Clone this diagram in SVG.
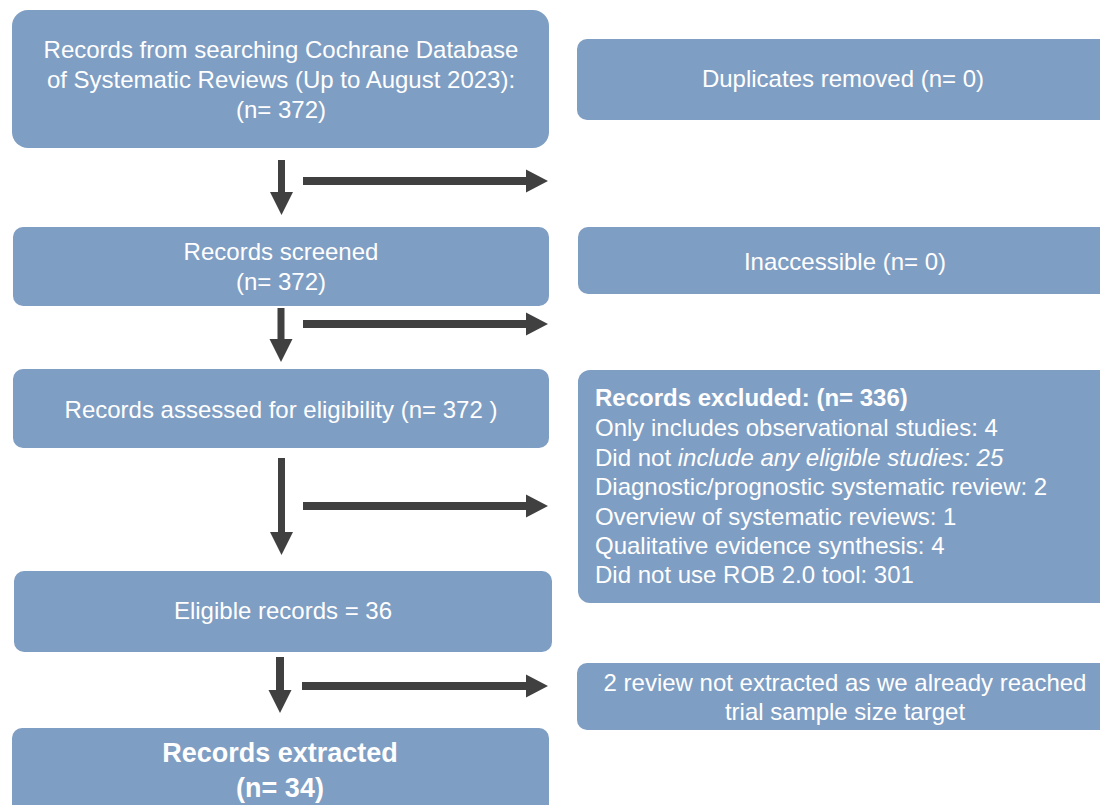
<svg xmlns="http://www.w3.org/2000/svg" width="1100" height="805" viewBox="0 0 1100 805">
<defs>
<style>
.box{fill:#7F9EC3;}
.t{font-family:"Liberation Sans",Arial,sans-serif;font-size:24px;fill:#FFFFFF;text-anchor:middle;}
.tl{font-family:"Liberation Sans",Arial,sans-serif;font-size:24px;fill:#FFFFFF;}
.b{font-weight:bold;}
.big{font-size:27px;}
.arr{fill:#404040;}
</style>
</defs>
<rect width="1100" height="805" fill="#FFFFFF"/>

<g id="n-search">
<rect class="box" x="12" y="10" width="537" height="138" rx="16"/>
<text class="t" x="281" y="58">Records from searching Cochrane Database</text>
<text class="t" x="281" y="88">of Systematic Reviews (Up to August 2023):</text>
<text class="t" x="281" y="118">(n= 372)</text>
</g>

<g id="n-duplicates">
<rect class="box" x="577" y="39" width="540" height="81" rx="10"/>
<text class="t" x="843" y="87">Duplicates removed (n= 0)</text>
</g>

<g id="n-screened">
<rect class="box" x="13" y="227" width="536" height="79" rx="10"/>
<text class="t" x="281" y="260">Records screened</text>
<text class="t" x="281" y="290">(n= 372)</text>
</g>

<g id="n-inaccessible">
<rect class="box" x="578" y="227" width="540" height="67" rx="10"/>
<text class="t" x="845" y="270">Inaccessible (n= 0)</text>
</g>

<g id="n-assessed">
<rect class="box" x="13" y="369" width="536" height="79" rx="10"/>
<text class="t" x="281" y="418">Records assessed for eligibility (n= 372 )</text>
</g>

<g id="n-excluded">
<rect class="box" x="578" y="370" width="540" height="233" rx="12"/>
<text class="tl b" x="595" y="406">Records excluded: (n= 336)</text>
<text class="tl" x="595" y="436">Only includes observational studies: 4</text>
<text class="tl" x="595" y="466">Did not <tspan font-style="italic">include any eligible studies: 25</tspan></text>
<text class="tl" x="595" y="495">Diagnostic/prognostic systematic review: 2</text>
<text class="tl" x="595" y="525">Overview of systematic reviews: 1</text>
<text class="tl" x="595" y="554">Qualitative evidence synthesis: 4</text>
<text class="tl" x="595" y="583">Did not use ROB 2.0 tool: 301</text>
</g>

<g id="n-eligible">
<rect class="box" x="14" y="571" width="538" height="81" rx="10"/>
<text class="t" x="283" y="619">Eligible records = 36</text>
</g>

<g id="n-notextracted">
<rect class="box" x="577" y="663" width="540" height="67" rx="10"/>
<text class="t" x="845" y="691">2 review not extracted as we already reached</text>
<text class="t" x="845" y="720">trial sample size target</text>
</g>

<g id="n-extracted">
<rect class="box" x="12" y="728" width="537" height="100" rx="10"/>
<text class="t b big" x="280" y="762">Records extracted</text>
<text class="t b big" x="280" y="797">(n= 34)</text>
</g>

<g id="connectors">
<polygon class="arr" points="278,160 285,160 285,192 293,192 281.5,215 270,192 278,192"/>
<polygon class="arr" points="303,177 526,177 526,169.5 548,181 526,192.5 526,185 303,185"/>
<polygon class="arr" points="277.5,308 284.5,308 284.5,339 292.5,339 281,362 269.5,339 277.5,339"/>
<polygon class="arr" points="303,320 526,320 526,312.5 548,324 526,335.5 526,328 303,328"/>
<polygon class="arr" points="278,458 285,458 285,532 293,532 281.5,555 270,532 278,532"/>
<polygon class="arr" points="303,502 526,502 526,494.5 548,506 526,517.5 526,510 303,510"/>
<polygon class="arr" points="276,657 284,657 284,690 291.5,690 280,713 268.5,690 276,690"/>
<polygon class="arr" points="302,682 526,682 526,674.5 548,686 526,697.5 526,690 302,690"/>
</g>
</svg>
